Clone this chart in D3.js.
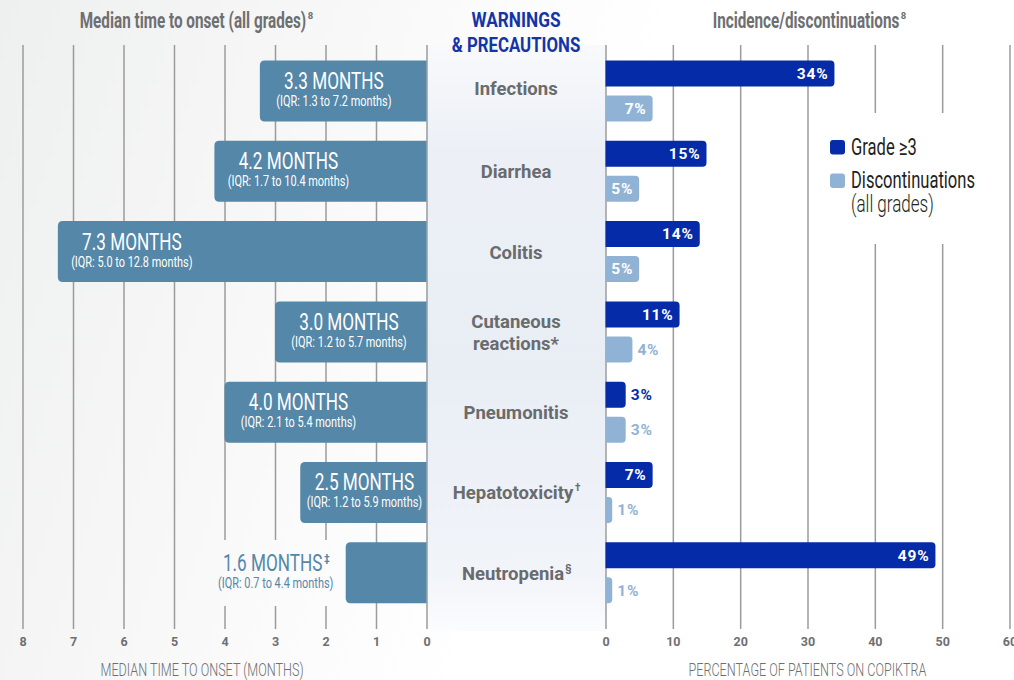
<!DOCTYPE html>
<html><head><meta charset="utf-8">
<script src="https://cdn.jsdelivr.net/npm/d3@7"></script>
<style>
html,body{margin:0;padding:0;background:#fff;}
svg{display:block;font-family:Roboto, "Noto Sans", sans-serif;}
</style></head>
<body>
<svg id="chart" width="1014" height="680"></svg>
<script>
// ---------- DATA ----------
const categories = ["Infections","Diarrhea","Colitis","Cutaneous reactions*","Pneumonitis","Hepatotoxicity†","Neutropenia§"];
const categoryLines = [["Infections"],["Diarrhea"],["Colitis"],["Cutaneous","reactions*"],["Pneumonitis"],["Hepatotoxicity","†"],["Neutropenia","§"]];
const medianMonths = [3.3, 4.2, 7.3, 3.0, 4.0, 2.5, 1.6];
const medianLabels = ["3.3 MONTHS","4.2 MONTHS","7.3 MONTHS","3.0 MONTHS","4.0 MONTHS","2.5 MONTHS","1.6 MONTHS"];
const medianNotes = ["","","","","","","‡"];
const iqrLabels = ["(IQR: 1.3 to 7.2 months)","(IQR: 1.7 to 10.4 months)","(IQR: 5.0 to 12.8 months)","(IQR: 1.2 to 5.7 months)","(IQR: 2.1 to 5.4 months)","(IQR: 1.2 to 5.9 months)","(IQR: 0.7 to 4.4 months)"];
const grade3 = [34, 15, 14, 11, 3, 7, 49];
const discontinuations = [7, 5, 5, 4, 3, 1, 1];
const monthTicks = [8,7,6,5,4,3,2,1,0];
const pctTicks = [0,10,20,30,40,50,60];
const legendLabels = ["Grade ≥3","Discontinuations","(all grades)"];

// ---------- STYLE ----------
const C = {
  steel:"#5487a8", dark:"#052ba8", light:"#90b3d5", gray:"#6e6f71",
  label:"#6a6b6d", blueHead:"#1335a7", grid:"#9b9b9b", legendText:"#231f20"
};

const svg = d3.select("#chart");
const W = 1014, H = 680;
const defs = svg.append("defs");

const bg = defs.append("linearGradient").attr("id","bg").attr("gradientUnits","userSpaceOnUse")
  .attr("x1",0).attr("y1",0).attr("x2",620).attr("y2",200);
bg.append("stop").attr("offset","0").attr("stop-color","#eeefef");
bg.append("stop").attr("offset","0.7").attr("stop-color","#fbfbfb");
bg.append("stop").attr("offset","1").attr("stop-color","#ffffff");
svg.append("rect").attr("width",W).attr("height",H).attr("fill","url(#bg)");

const pg = defs.append("linearGradient").attr("id","panel").attr("x1","0").attr("x2","0").attr("y1","0").attr("y2","1");
pg.append("stop").attr("offset","0").attr("stop-color","#f8f9fb");
pg.append("stop").attr("offset","0.18").attr("stop-color","#ecf0f6");
pg.append("stop").attr("offset","0.55").attr("stop-color","#e9eef5");
pg.append("stop").attr("offset","0.9").attr("stop-color","#f1f4f9");
pg.append("stop").attr("offset","1").attr("stop-color","#fbfcfd");

// ---------- SCALES ----------
const xM = d3.scaleLinear().domain([0,8]).range([426.5, 22.5]);
const xP = d3.scaleLinear().domain([0,60]).range([605.5, 1009.5]);
const y = d3.scaleBand().domain(categories).range([60.5, 603.3]).paddingInner(0.24).paddingOuter(0);
const bh = y.bandwidth();
const gridTop = 45, gridBot = 629;

// middle panel
svg.append("rect").attr("x", xM(0)).attr("y", gridTop).attr("width", xP(0)-xM(0)).attr("height", gridBot-gridTop+2)
  .attr("fill","url(#panel)");

// ---------- GRID / AXES ----------
const axL = d3.axisBottom(xM).tickValues(monthTicks).tickSize(gridBot-gridTop).tickPadding(8).tickFormat(d3.format("d"));
const axR = d3.axisBottom(xP).tickValues(pctTicks).tickSize(gridBot-gridTop).tickPadding(8).tickFormat(d3.format("d"));
function styleAxis(g){
  g.select(".domain").remove();
  g.selectAll(".tick line").attr("stroke", C.grid).attr("stroke-width",1.5);
  g.selectAll(".tick text").attr("fill", C.gray).attr("font-size",12.5).attr("font-weight",700)
    .attr("font-family","Roboto, sans-serif");
}
svg.append("g").attr("transform",`translate(0,${gridTop})`).call(axL).call(styleAxis);
svg.append("g").attr("transform",`translate(0,${gridTop})`).call(axR).call(styleAxis);

// boxes that interrupt gridlines
svg.append("rect").attr("x", 820).attr("y", 113).attr("width", 180).attr("height", 131).attr("fill","#fff");
svg.append("rect").attr("x", 206).attr("y", 540).attr("width", 136).attr("height", 66).attr("fill","url(#bg)");

function condense(sel, k){
  sel.each(function(){
    const L = this.getComputedTextLength();
    d3.select(this).attr("textLength", L*k).attr("lengthAdjust","spacingAndGlyphs");
  });
}
function addSup(sel, str, size, dx, dy, color, weight){
  sel.each(function(){
    const b = this.getBBox();
    d3.select(this.parentNode).append("text")
      .attr("x", b.x + b.width + dx).attr("y", +d3.select(this).attr("y") - dy)
      .attr("font-size", size).attr("fill", color).attr("font-weight", weight||700)
      .text(str);
  });
}

// ---------- LEFT BARS ----------
function leftBar(x0, x1, yy, h, r){
  return `M${x1},${yy} L${x0+r},${yy} Q${x0},${yy} ${x0},${yy+r} L${x0},${yy+h-r} Q${x0},${yy+h} ${x0+r},${yy+h} L${x1},${yy+h} Z`;
}
function rightBar(x0, x1, yy, h, r){
  r = Math.min(r, (x1-x0));
  return `M${x0},${yy} L${x1-r},${yy} Q${x1},${yy} ${x1},${yy+r} L${x1},${yy+h-r} Q${x1},${yy+h} ${x1-r},${yy+h} L${x0},${yy+h} Z`;
}

const gL = svg.append("g");
categories.forEach((c,i)=>{
  const x0 = xM(medianMonths[i]), x1 = xM(0), top = y(c);
  gL.append("path").attr("d", leftBar(x0, x1, top, bh, 5)).attr("fill", C.steel);
  const inside = (x1 - x0) > 110;
  const cx = inside ? Math.min(x0 + 74, x1 - 62) : x0 - 70;
  const col = inside ? "#ffffff" : C.steel;
  const g = gL.append("g");
  const t1 = g.append("text").attr("x", cx - (medianNotes[i]?3:0)).attr("y", top + 28.5).attr("text-anchor","middle")
    .attr("font-size", 24.5).attr("font-weight", 400).attr("fill", col).text(medianLabels[i]);
  condense(t1, 0.70);
  if (medianNotes[i]) addSup(t1, medianNotes[i], 10, 1.5, 9, col, 700);
  const t2 = g.append("text").attr("x", cx).attr("y", top + 45.5).attr("text-anchor","middle")
    .attr("font-size", 14).attr("font-weight", 400).attr("fill", col).text(iqrLabels[i]);
  condense(t2, 0.78);
});

// ---------- MIDDLE LABELS ----------
const gM = svg.append("g");
const midX = (xM(0)+xP(0))/2;
categories.forEach((c,i)=>{
  const cy = y(c) + bh/2;
  const lines = categoryLines[i];
  if (lines[0]==="Cutaneous"){
    gM.append("text").attr("x", midX).attr("y", cy - 3.5).attr("text-anchor","middle").attr("font-size",18.5)
      .attr("font-weight",700).attr("fill",C.label).text(lines[0]);
    gM.append("text").attr("x", midX).attr("y", cy + 18.5).attr("text-anchor","middle").attr("font-size",18.5)
      .attr("font-weight",700).attr("fill",C.label).text(lines[1]);
  } else {
    const t = gM.append("text").attr("x", midX - (lines[1]?3:0)).attr("y", cy + (i===0?4:7)).attr("text-anchor","middle").attr("font-size",18.5)
      .attr("font-weight",700).attr("fill",C.label).text(lines[0]);
    if (lines[1]) addSup(t, lines[1], 10, 1, 8, C.label, 700);
  }
});

// ---------- RIGHT BARS ----------
const gR = svg.append("g");
const rb = 26;
categories.forEach((c,i)=>{
  const top = y(c);
  [[grade3[i], C.dark, top],[discontinuations[i], C.light, top + bh - rb]].forEach(([v,col,yy])=>{
    const x0 = xP(0), x1 = xP(v);
    gR.append("path").attr("d", rightBar(x0, x1, yy, rb, 4)).attr("fill", col);
    const inside = (x1 - x0) > 30;
    gR.append("text")
      .attr("x", inside ? x1 - 6 : x1 + 5)
      .attr("y", yy + rb/2 + 5.3)
      .attr("text-anchor", inside ? "end" : "start")
      .attr("font-size", 15.5).attr("font-weight", 700).attr("letter-spacing", 0.8)
      .attr("fill", inside ? "#ffffff" : col)
      .text(v + "%");
  });
});

// ---------- HEADERS ----------
const gH = svg.append("g");
const h1 = gH.append("text").attr("x", 193).attr("y", 28.3).attr("text-anchor","middle").attr("font-size",21.5)
  .attr("font-weight",700).attr("fill",C.gray).text("Median time to onset (all grades)");
condense(h1, 0.71); addSup(h1, "8", 9.5, 1.5, 9, C.gray, 700);
const h2 = gH.append("text").attr("x", 806).attr("y", 28.3).attr("text-anchor","middle").attr("font-size",21.5)
  .attr("font-weight",700).attr("fill",C.gray).text("Incidence/discontinuations");
condense(h2, 0.71); addSup(h2, "8", 9.5, 1.5, 9, C.gray, 700);
const h3 = gH.append("text").attr("x", midX).attr("y", 27.3).attr("text-anchor","middle").attr("font-size",21)
  .attr("font-weight",700).attr("fill",C.blueHead).text("WARNINGS");
condense(h3, 0.82);
const h4 = gH.append("text").attr("x", midX).attr("y", 51.5).attr("text-anchor","middle").attr("font-size",21)
  .attr("font-weight",700).attr("fill",C.blueHead).text("& PRECAUTIONS");
condense(h4, 0.80);

// axis titles
const a1 = gH.append("text").attr("x", 202).attr("y", 676).attr("text-anchor","middle").attr("font-size",17.5)
  .attr("font-weight",300).attr("fill",C.gray).text("MEDIAN TIME TO ONSET (MONTHS)");
condense(a1, 0.72);
const a2 = gH.append("text").attr("x", 807.5).attr("y", 676).attr("text-anchor","middle").attr("font-size",17.5)
  .attr("font-weight",300).attr("fill",C.gray).text("PERCENTAGE OF PATIENTS ON COPIKTRA");
condense(a2, 0.72);

// ---------- LEGEND ----------
const gLg = svg.append("g");
gLg.append("rect").attr("x",830).attr("y",140).attr("width",15).attr("height",14.5).attr("rx",3).attr("fill",C.dark);
gLg.append("rect").attr("x",830).attr("y",173.5).attr("width",15).attr("height",14.5).attr("rx",3).attr("fill",C.light);
const l1 = gLg.append("text").attr("x",851).attr("y",155).attr("font-size",23).attr("font-weight",400).attr("fill",C.legendText).text(legendLabels[0]);
condense(l1, 0.72);
const l2 = gLg.append("text").attr("x",851).attr("y",188).attr("font-size",23).attr("font-weight",400).attr("fill",C.legendText).text(legendLabels[1]);
condense(l2, 0.72);
const l3 = gLg.append("text").attr("x",851).attr("y",212).attr("font-size",23).attr("font-weight",300).attr("fill",C.legendText).text(legendLabels[2]);
condense(l3, 0.74);
</script>
</body></html>
